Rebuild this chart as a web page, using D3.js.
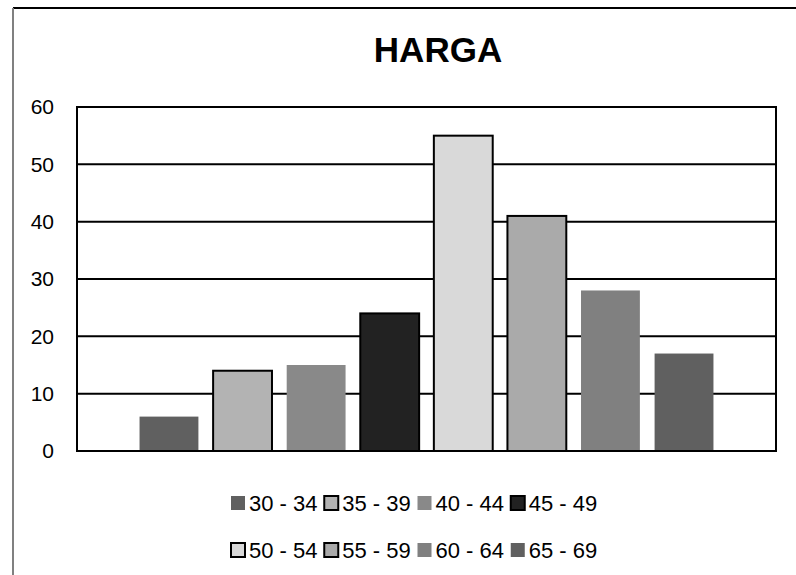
<!DOCTYPE html>
<html>
<head>
<meta charset="utf-8">
<script src="https://cdn.jsdelivr.net/npm/d3@7/dist/d3.min.js"></script>
<style>
  html, body { margin: 0; padding: 0; background: #fff; }
  svg { display: block; font-family: "Liberation Sans", Arial, sans-serif; }
</style>
</head>
<body>
<svg id="chart" width="796" height="575"></svg>
<script>
const title = "HARGA";
const categories = ["30 - 34", "35 - 39", "40 - 44", "45 - 49", "50 - 54", "55 - 59", "60 - 64", "65 - 69"];
const values = [6, 14, 15, 24, 55, 41, 28, 17];
const colors = ["#606060", "#b3b3b3", "#898989", "#222222", "#d9d9d9", "#aaaaaa", "#808080", "#606060"];
const outlined = [false, true, false, true, true, true, false, false];
const yTicks = [0, 10, 20, 30, 40, 50, 60];

const svg = d3.select("#chart");

// outer frame
svg.append("line").attr("x1", 13).attr("y1", 8).attr("x2", 796).attr("y2", 8)
  .attr("stroke", "#000").attr("stroke-width", 2);
svg.append("line").attr("x1", 13).attr("y1", 8).attr("x2", 13).attr("y2", 575)
  .attr("stroke", "#808080").attr("stroke-width", 2);

const plot = { left: 77, right: 776, top: 107, bottom: 451 };

const x = d3.scaleBand().domain(categories).range([plot.left, plot.right])
  .paddingInner(0.2).paddingOuter(0.85);
const y = d3.scaleLinear().domain([0, 60]).range([plot.bottom, plot.top]);

// title
svg.append("text").attr("x", 438).attr("y", 62).attr("text-anchor", "middle")
  .attr("font-size", 35).attr("font-weight", "bold").attr("fill", "#000").text(title);

// gridlines
svg.append("g").selectAll("line").data(yTicks).join("line")
  .attr("x1", plot.left).attr("x2", plot.right)
  .attr("y1", d => y(d)).attr("y2", d => y(d))
  .attr("stroke", "#000").attr("stroke-width", 2);

// y axis labels
const yAxis = d3.axisLeft(y).tickValues(yTicks).tickSize(0).tickPadding(23);
const gy = svg.append("g").attr("transform", `translate(${plot.left},0)`).call(yAxis);
gy.select(".domain").remove();
gy.selectAll("text").attr("font-size", 21).attr("fill", "#000")
  .attr("font-family", "Liberation Sans, Arial, sans-serif");

// bars
svg.append("g").selectAll("rect").data(categories).join("rect")
  .attr("x", d => x(d))
  .attr("width", x.bandwidth())
  .attr("y", (d, i) => y(values[i]))
  .attr("height", (d, i) => y(0) - y(values[i]))
  .attr("fill", (d, i) => colors[i])
  .attr("stroke", (d, i) => outlined[i] ? "#000" : "none")
  .attr("stroke-width", 2);

// plot border
svg.append("rect").attr("x", plot.left).attr("y", plot.top)
  .attr("width", plot.right - plot.left).attr("height", plot.bottom - plot.top)
  .attr("fill", "none").attr("stroke", "#000").attr("stroke-width", 2);

// legend
const legX = d3.scaleLinear().domain([0, 4]).range([231, 604]);
const rowY = [503, 550];
const leg = svg.append("g").selectAll("g").data(categories).join("g")
  .attr("transform", (d, i) => `translate(${legX(i % 4)},${rowY[Math.floor(i / 4)]})`);
leg.append("rect").attr("x", 0).attr("y", -7).attr("width", 14).attr("height", 14)
  .attr("fill", (d, i) => colors[i])
  .attr("stroke", (d, i) => outlined[i] ? "#000" : "none").attr("stroke-width", 2);
leg.append("text").attr("x", 18).attr("y", 0).attr("dy", "0.36em")
  .attr("font-size", 22).attr("fill", "#000").text(d => d);
</script>
</body>
</html>
